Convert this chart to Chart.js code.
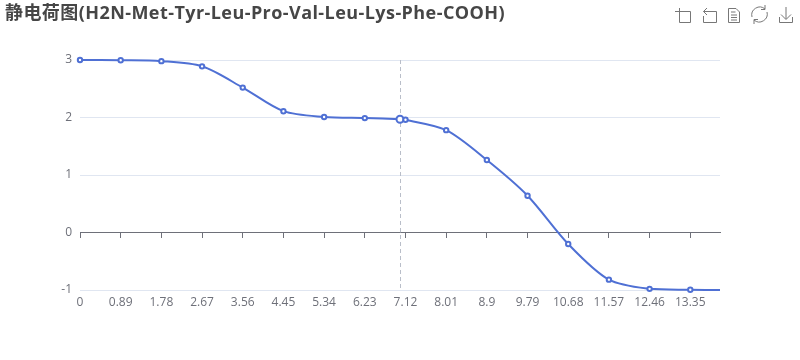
<!DOCTYPE html>
<html>
<head>
<meta charset="utf-8">
<title>静电荷图</title>
<script src="https://cdn.jsdelivr.net/npm/chart.js@4/dist/chart.umd.min.js"></script>
<style>
    html, body { margin: 0; background: #fff; }
    #wrap { position: relative; width: 800px; height: 360px; overflow: hidden; }
    #title {
        position: absolute; left: 5px; top: 0; margin: 0;
        font: bold 18px/24px "Open Sans", "Noto Sans CJK SC", sans-serif;
        letter-spacing: 0.43px;
        color: #464646; white-space: nowrap;
    }
    #toolbox { position: absolute; left: 670px; top: 0; }
    canvas { display: block; }
</style>
</head>
<body>
<div id="wrap">
    <canvas id="chart" width="800" height="360"></canvas>
    <h1 id="title">静电荷图(H2N-Met-Tyr-Leu-Pro-Val-Leu-Lys-Phe-COOH)</h1>
    <svg id="toolbox" width="130" height="30" fill="none" stroke="#777" stroke-width="1">
        <path d="M5 11.5H20.5V22.5H9.5V8"/>
        <path d="M37 8L33.5 11.5L37 15M33.5 11.5H46.5V22.5H33.5V16"/>
        <path d="M58.5 8.5H66L69.5 12V22.5H58.5ZM61 12H65.5M61 15H67M61 17.5H67M61 20H67"/>
        <path d="M82 17A8 8 0 0 1 95 9M97 12A8 8 0 0 1 84 20M95 5V9.5H91M84 24V19.5H88"/>
        <path d="M116 7V19M111 14.5L116 19.5L121 14.5M109.5 17V22.5H122.5V17"/>
    </svg>
</div>
<script>
// ------------------------------
// DATA
// ------------------------------
const phValues = [0, 0.89, 1.78, 2.67, 3.56, 4.45, 5.34, 6.23, 7, 7.12, 8.01, 8.9, 9.79, 10.68, 11.57, 12.46, 13.35, 14];
const chargeValues = [3, 2.995, 2.98, 2.89, 2.52, 2.11, 2.01, 1.99, 1.97, 1.96, 1.78, 1.26, 0.64, -0.2, -0.82, -0.98, -0.995, -1];
const xTickValues = [0, 0.89, 1.78, 2.67, 3.56, 4.45, 5.34, 6.23, 7.12, 8.01, 8.9, 9.79, 10.68, 11.57, 12.46, 13.35];
const yTickValues = [-1, 0, 1, 2, 3];
const hoverPh = 7;

const BLUE = "#4f70d4";
const AXIS = "#6e7079";
const FONT = { family: '"Open Sans", "Noto Sans", sans-serif', size: 12 };

// Dashed pointer line at the hovered pH
const pointerLine = {
    id: "pointerLine",
    beforeDatasetsDraw(chart) {
        const { ctx, chartArea, scales } = chart;
        const x = Math.round(scales.x.getPixelForValue(hoverPh)) + 0.5;
        ctx.save();
        ctx.strokeStyle = "#b9bec9";
        ctx.lineWidth = 1;
        ctx.setLineDash([4, 3]);
        ctx.beginPath();
        ctx.moveTo(x, chartArea.top);
        ctx.lineTo(x, chartArea.bottom);
        ctx.stroke();
        ctx.restore();
    }
};

function setXTicks(scale) {
    scale.ticks = xTickValues.map(v => ({ value: v }));
}

new Chart(document.getElementById("chart").getContext("2d"), {
    type: "line",
    data: {
        datasets: [{
            data: phValues.map((x, i) => ({ x, y: chargeValues[i] })),
            borderColor: BLUE,
            borderWidth: 2,
            tension: 0.3,
            backgroundColor: "#fff",
            pointBackgroundColor: "#fff",
            pointBorderColor: BLUE,
            pointBorderWidth: 2,
            pointRadius: (c) => {
                const ph = phValues[c.dataIndex];
                if (ph === 14) return 0;
                return ph === hoverPh ? 3.5 : 2.2;
            },
            clip: false
        }]
    },
    options: {
        responsive: false,
        animation: false,
        events: [],
        layout: { padding: { top: 60, right: 80, bottom: 0, left: 0 } },
        plugins: { legend: { display: false }, tooltip: { enabled: false } },
        scales: {
            x: {
                type: "linear",
                position: "bottom",
                min: 0,
                max: 14,
                afterBuildTicks: setXTicks,
                afterFit: (s) => { s.height = 70; },
                border: { display: false },
                grid: { display: false, drawTicks: false },
                ticks: {
                    color: AXIS,
                    font: FONT,
                    padding: 5,
                    autoSkip: false,
                    maxRotation: 0,
                    callback: (v) => String(v)
                }
            },
            xZero: {
                type: "linear",
                axis: "x",
                position: { y: 0 },
                min: 0,
                max: 14,
                afterBuildTicks: setXTicks,
                border: { display: true, color: AXIS, width: 1 },
                grid: { drawOnChartArea: false, drawTicks: true, tickLength: 5, color: AXIS },
                ticks: { display: false }
            },
            y: {
                min: -1,
                max: 3,
                afterBuildTicks: (s) => { s.ticks = yTickValues.map(v => ({ value: v })); },
                afterFit: (s) => { s.width = 80; },
                border: { display: false },
                grid: { color: "#e0e6f1", drawTicks: false },
                ticks: { color: AXIS, font: FONT, padding: 8, callback: (v) => String(v) }
            }
        }
    },
    plugins: [pointerLine]
});
</script>
</body>
</html>
